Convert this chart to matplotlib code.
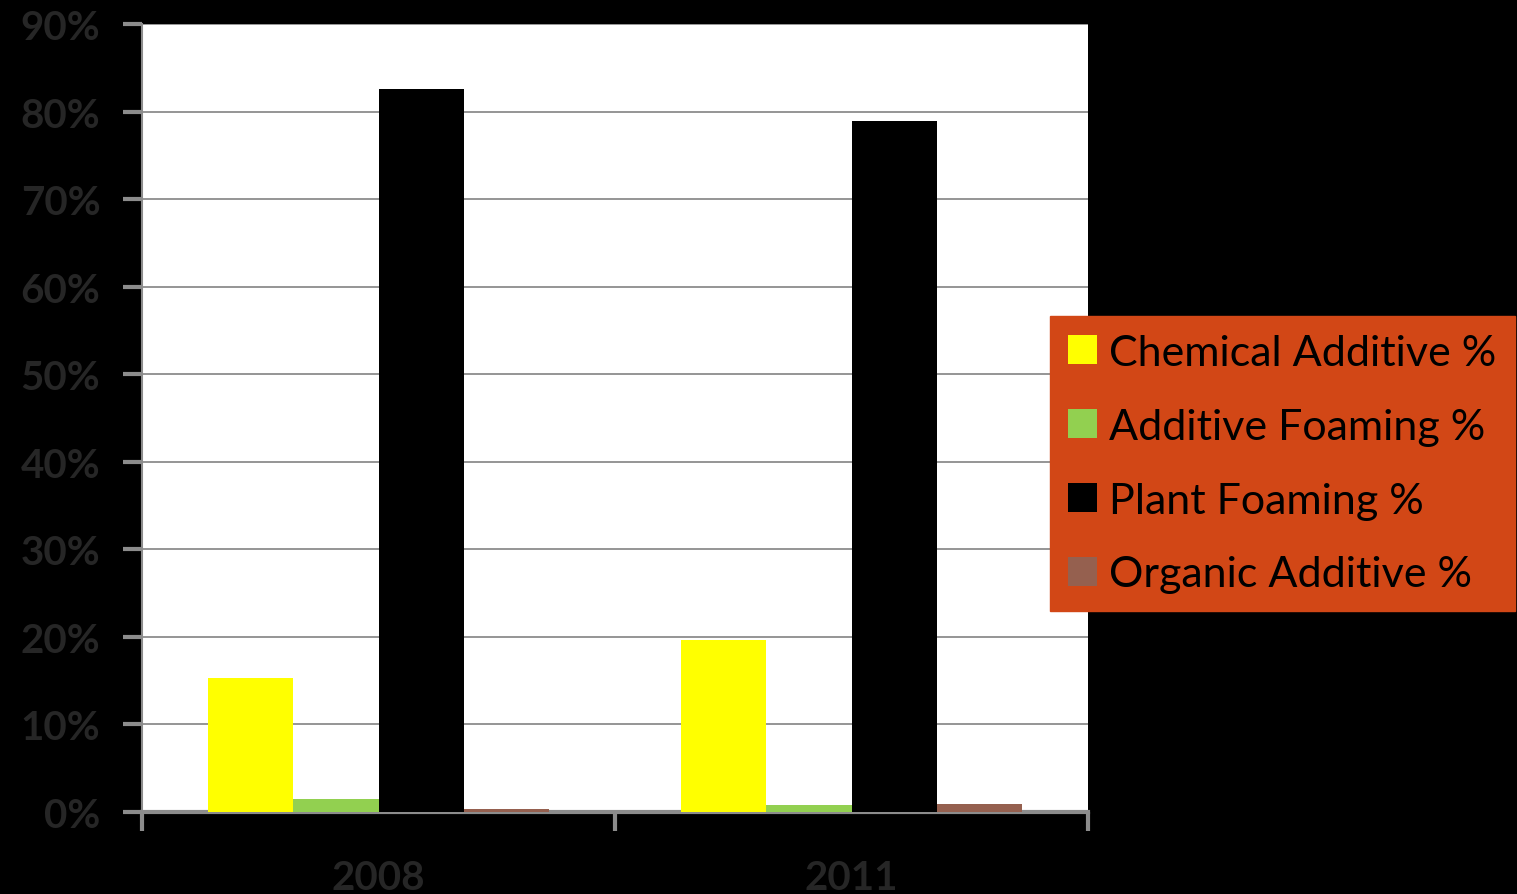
import numpy as np
import matplotlib
matplotlib.use("Agg")
import matplotlib.pyplot as plt
from matplotlib.ticker import FuncFormatter, FixedLocator

years = ["2008", "2011"]
series_names = ["Chemical Additive %", "Additive Foaming %", "Plant Foaming %", "Organic Additive %"]
chemical_additive = [15.3, 19.6]
additive_foaming = [1.5, 0.8]
plant_foaming = [82.6, 78.9]
organic_additive = [0.35, 0.9]
series_values = [chemical_additive, additive_foaming, plant_foaming, organic_additive]
series_colors = ["#FFFF00", "#92D050", "#000000", "#95604F"]

fig = plt.figure(figsize=(15.17, 8.95), dpi=100, facecolor="black")
ax = fig.add_axes([142 / 1517, 1 - 813 / 895, (1088 - 142) / 1517, (813 - 25) / 895])
ax.set_facecolor("white")

x = np.arange(len(years))
bar_w = 0.18
offsets = (np.arange(len(series_names)) - 1.5) * bar_w
for name, vals, col, off in zip(series_names, series_values, series_colors, offsets):
    ax.bar(x + off, vals, width=bar_w, color=col, label=name, zorder=3)

ax.set_xlim(-0.5, len(years) - 0.5)
ax.set_ylim(0, 90)
ax.yaxis.set_major_locator(FixedLocator(np.arange(0, 91, 10)))
ax.yaxis.set_major_formatter(FuncFormatter(lambda v, p: f"{v:.0f}%"))
ax.grid(axis="y", color="#8c8c8c", linewidth=1.3, zorder=0)
ax.set_axisbelow(True)

ax.set_xticks(x)
ax.set_xticklabels(years)
ax.xaxis.set_minor_locator(FixedLocator([-0.5, 0.5, 1.5]))
ax.tick_params(axis="x", which="major", length=0, pad=34)
ax.tick_params(axis="x", which="minor", length=14, width=3, color="#8c8c8c")
ax.tick_params(axis="y", length=14, width=3, color="#8c8c8c", pad=16)
for lbl in ax.get_xticklabels() + ax.get_yticklabels():
    lbl.set_color("#262626")
    lbl.set_fontsize(29)
    lbl.set_fontweight("bold")
    lbl.set_fontfamily("Lato")

for side in ["top", "right"]:
    ax.spines[side].set_visible(False)
ax.spines["left"].set_color("#8c8c8c")
ax.spines["left"].set_linewidth(1.5)
ax.spines["bottom"].set_color("#8c8c8c")
ax.spines["bottom"].set_linewidth(3)

leg = ax.legend(loc="upper left", bbox_to_anchor=(1050 / 1517, 1 - 317 / 895),
                bbox_transform=fig.transFigure, frameon=True, fancybox=False,
                facecolor="#D24716", edgecolor="#D24716", framealpha=1,
                prop={"family": "Lato", "size": 31}, handlelength=0.66, handleheight=0.66,
                handletextpad=0.3, labelspacing=0.83, borderpad=0.42, borderaxespad=0)
for t in leg.get_texts():
    t.set_color("black")

fig.savefig("out.png", dpi=100, facecolor="black")
